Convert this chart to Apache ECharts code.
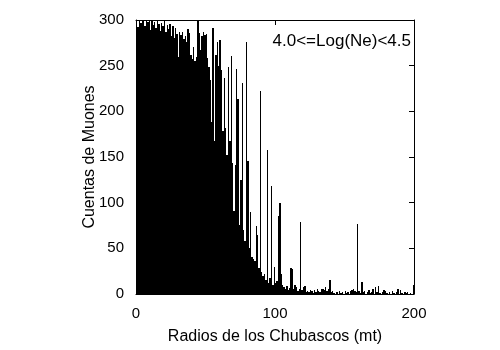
<!DOCTYPE html>
<html>
<head>
<meta charset="utf-8">
<script src="https://cdn.jsdelivr.net/npm/echarts@6/dist/echarts.min.js"></script>
<style>
html,body{margin:0;padding:0;background:#fff;}
#chart{width:500px;height:350px;}
</style>
</head>
<body>
<div id="chart"></div>
<script>
// Histogram: muon counts per 1 m bin of shower radius (bin starts at 0)
const binStart = 0;
const binWidth = 1;
const counts = [
  300,292,300,297,300,300,293,300,298,300,289,300,
  295,298,291,300,296,288,297,293,300,287,295,290,296,
  283,293,280,291,285,259,287,284,287,
  279,283,276,290,286,262,257,270,255,260,
  300,286,267,283,287,284,285,258,248,234,
  188,291,167,262,276,250,278,245,178,236,
  182,152,249,167,261,143,91,141,246,214,
  76,125,231,70,58,276,146,50,90,40,
  38,36,75,65,29,222,24,20,22,15,
  158,12,18,118,10,30,
  12,14,85,100,22,10,8,6,9,4,
  7,28,27,5,10,8,3,5,79,4,
  8,9,2,3,2,4,3,1,4,2,
  5,3,2,5,6,4,8,3,6,15,
  2,3,1,0,2,0,3,1,2,0,
  3,1,2,0,3,4,5,3,2,77,
  3,1,13,2,3,0,2,4,1,2,
  5,0,8,2,9,1,0,2,4,3,
  1,0,2,0,3,1,0,2,6,0,
  4,1,0,2,1,2,0,1,0,10
];
const xTicks = [0, 100, 200];
const yTicks = [0, 50, 100, 150, 200, 250, 300];
const xTitle = 'Radios de los Chubascos (mt)';
const yTitle = 'Cuentas de Muones';
const label = '4.0<=Log(Ne)<4.5';

const FONT = '"Liberation Sans", Arial, Helvetica, sans-serif';
// each item: [bin start, bin end, count]
const data = counts.map((c, i) => [binStart + i * binWidth, binStart + (i + 1) * binWidth, c]);

const chart = echarts.init(document.getElementById('chart'), null, {renderer: 'canvas'});
const axisLine = {show: true, onZero: false, lineStyle: {color: '#000', width: 1}};
const tick = {show: true, inside: true, length: 5, lineStyle: {color: '#000', width: 1}};
const xMin = xTicks[0], xMax = xTicks[xTicks.length - 1], xInt = xTicks[1] - xTicks[0];
const yMin = yTicks[0], yMax = yTicks[yTicks.length - 1], yInt = yTicks[1] - yTicks[0];

function renderItem(params, api) {
  const p0 = api.coord([api.value(0), 0]);
  const p1 = api.coord([api.value(1), api.value(2)]);
  const x = Math.round(p0[0]);
  const w = Math.max(1, Math.round(p1[0]) - x);
  const y = Math.round(p1[1]);
  const h = Math.round(p0[1]) - y;
  if (h <= 0) return null;
  return {
    type: 'rect',
    shape: {x: x, y: y, width: w, height: h},
    style: {fill: '#000'}
  };
}

chart.setOption({
  animation: false,
  backgroundColor: '#fff',
  grid: {left: 136, right: 86, top: 20, bottom: 53, containLabel: false},
  xAxis: [
    {type: 'value', position: 'bottom', min: xMin, max: xMax, interval: xInt,
     axisLine: axisLine, axisTick: tick, splitLine: {show: false},
     axisLabel: {color: '#000', fontSize: 15, fontFamily: FONT, margin: 12},
     name: xTitle, nameLocation: 'middle', nameGap: 35, nameMoveOverlap: false,
     nameTextStyle: {color: '#000', fontSize: 16, fontFamily: FONT}},
    {type: 'value', position: 'top', min: xMin, max: xMax, interval: xInt,
     axisLine: axisLine, axisTick: tick, splitLine: {show: false},
     axisLabel: {show: false}}
  ],
  yAxis: [
    {type: 'value', position: 'left', min: yMin, max: yMax, interval: yInt,
     axisLine: axisLine, axisTick: tick, splitLine: {show: false},
     axisLabel: {color: '#000', fontSize: 15, fontFamily: FONT, margin: 12},
     name: yTitle, nameLocation: 'middle', nameGap: 38, nameMoveOverlap: false,
     nameTextStyle: {color: '#000', fontSize: 16, fontFamily: FONT}},
    {type: 'value', position: 'right', min: yMin, max: yMax, interval: yInt,
     axisLine: axisLine, axisTick: tick, splitLine: {show: false},
     axisLabel: {show: false}}
  ],
  graphic: [{
    type: 'text', right: 89, top: 33,
    style: {text: label, fill: '#000', font: '17px ' + FONT}
  }],
  series: [{
    type: 'custom', xAxisIndex: 0, yAxisIndex: 0,
    renderItem: renderItem,
    data: data,
    encode: {x: [0, 1], y: 2},
    clip: true,
    silent: true
  }]
});
</script>
</body>
</html>
